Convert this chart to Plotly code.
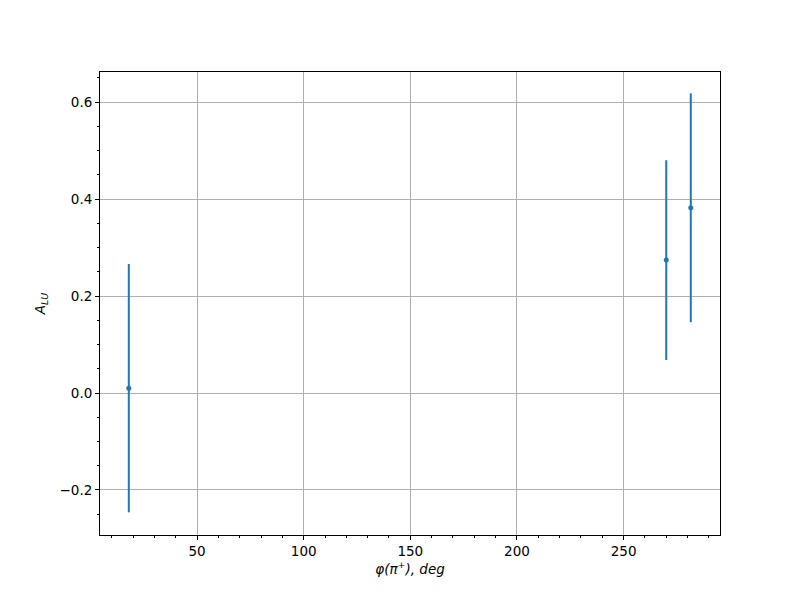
import plotly.graph_objects as go

phi = [18, 270, 281.5]
alu = [0.010, 0.274, 0.382]
err = [0.256, 0.206, 0.236]

fig = go.Figure()
fig.add_trace(go.Scatter(
    x=phi, y=alu, mode="markers",
    marker=dict(color="#1f77b4", size=5),
    error_y=dict(type="data", array=err, visible=True, color="#1f77b4", thickness=2, width=0),
    showlegend=False,
))

axis_common = dict(
    showgrid=True, gridcolor="#b0b0b0", gridwidth=1,
    showline=True, linecolor="black", linewidth=1, mirror=True,
    ticks="outside", ticklen=4, tickwidth=1, tickcolor="black",
    zeroline=False,
    tickfont=dict(family="DejaVu Sans", size=13.5, color="black"),
)

fig.update_layout(
    width=800, height=600,
    paper_bgcolor="white", plot_bgcolor="white",
    margin=dict(l=92, r=88, t=64, b=73),
    font=dict(family="DejaVu Sans", size=13.5, color="black"),
    xaxis=dict(
        range=[4.5, 295.2], tickvals=[50, 100, 150, 200, 250],
        minor=dict(dtick=10, tick0=0, ticks="outside", ticklen=2, tickcolor="black", showgrid=False),
        title=dict(text="<i>φ(π<sup>+</sup>), deg</i>", font=dict(size=13.5), standoff=4),
        **axis_common,
    ),
    yaxis=dict(
        range=[-0.2928, 0.6619], tickvals=[-0.2, 0.0, 0.2, 0.4, 0.6], tickformat=".1f",
        minor=dict(dtick=0.05, tick0=0, ticks="outside", ticklen=2, tickcolor="black", showgrid=False),
        title=dict(text="<i>A<sub>LU</sub></i>", font=dict(size=13.5), standoff=10),
        **axis_common,
    ),
)

fig.write_html("out.html")
